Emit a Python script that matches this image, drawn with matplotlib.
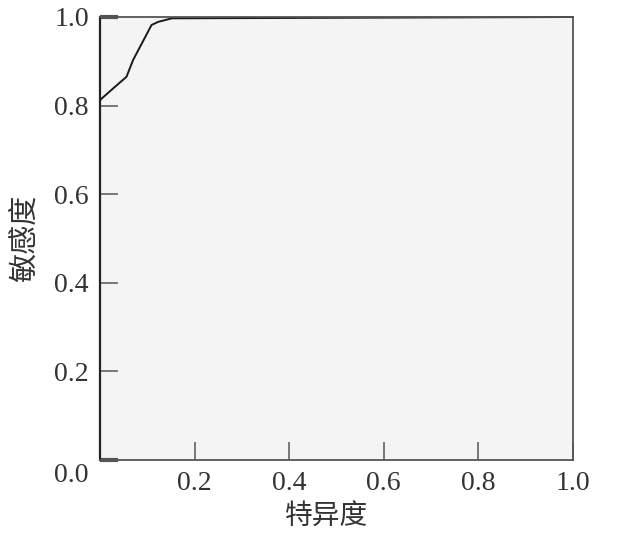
import matplotlib
matplotlib.use('Agg')
import matplotlib.pyplot as plt
import matplotlib.transforms as mtransforms

# ROC curve points
SPEC = [0.0, 0.0015, 0.028, 0.056, 0.07, 0.109, 0.123, 0.152, 1.0]
SENS = [0.81, 0.814, 0.839, 0.865, 0.903, 0.982, 0.989, 0.997, 1.0]
TICKS = [0.0, 0.2, 0.4, 0.6, 0.8, 1.0]
TICK_LABELS = ['0.0', '0.2', '0.4', '0.6', '0.8', '1.0']
X_LABEL = '特异度'
Y_LABEL = '敏感度'

CJK = ['Noto Sans CJK SC', 'DejaVu Sans']
NUM_FONT = 'Liberation Serif'


def main():
    fig = plt.figure(figsize=(6.19, 5.43), dpi=100)
    ax = fig.add_axes([100 / 619, 83 / 543, 473 / 619, 443 / 543])
    ax.set_facecolor('#f4f4f4')

    ax.plot(SPEC, SENS, color='#1a1a1a', lw=1.4, clip_on=False)

    ax.set_xlim(0, 1)
    ax.set_ylim(0, 1)

    ax.set_xticks(TICKS[1:])
    ax.set_xticklabels(TICK_LABELS[1:], fontfamily=NUM_FONT, fontsize=20)
    ax.set_yticks(TICKS)
    ax.set_yticklabels(TICK_LABELS, fontfamily=NUM_FONT, fontsize=20)
    ax.tick_params(axis='both', direction='in', length=13, width=1.1,
                   color='#555555', labelcolor='#333333')
    ax.tick_params(axis='y', pad=8)
    ax.tick_params(axis='x', pad=8)

    # heavier marks at 0 and 1 on the y axis
    yt = ax.yaxis.get_major_ticks()
    for i in (0, len(yt) - 1):
        yt[i].tick1line.set_markeredgewidth(3)
        yt[i].tick1line.set_color('black')
    # push the 0.0 label down a bit
    lab0 = ax.get_yticklabels()[0]
    lab0.set_transform(lab0.get_transform() + mtransforms.ScaledTranslation(0, -13 / 100, fig.dpi_scale_trans))

    for side in ('top', 'right', 'bottom'):
        ax.spines[side].set_color('#555555')
        ax.spines[side].set_linewidth(1.3)
    ax.spines['left'].set_color('#222222')
    ax.spines['left'].set_linewidth(1.6)

    ax.set_xlabel(X_LABEL, family=CJK, fontsize=20, color='#333333')
    ax.xaxis.set_label_coords(0.48, -0.095)
    ax.set_ylabel(Y_LABEL, family=CJK, fontsize=21, color='#333333', labelpad=10)

    fig.savefig('out.png', dpi=100)


if __name__ == '__main__':
    main()
